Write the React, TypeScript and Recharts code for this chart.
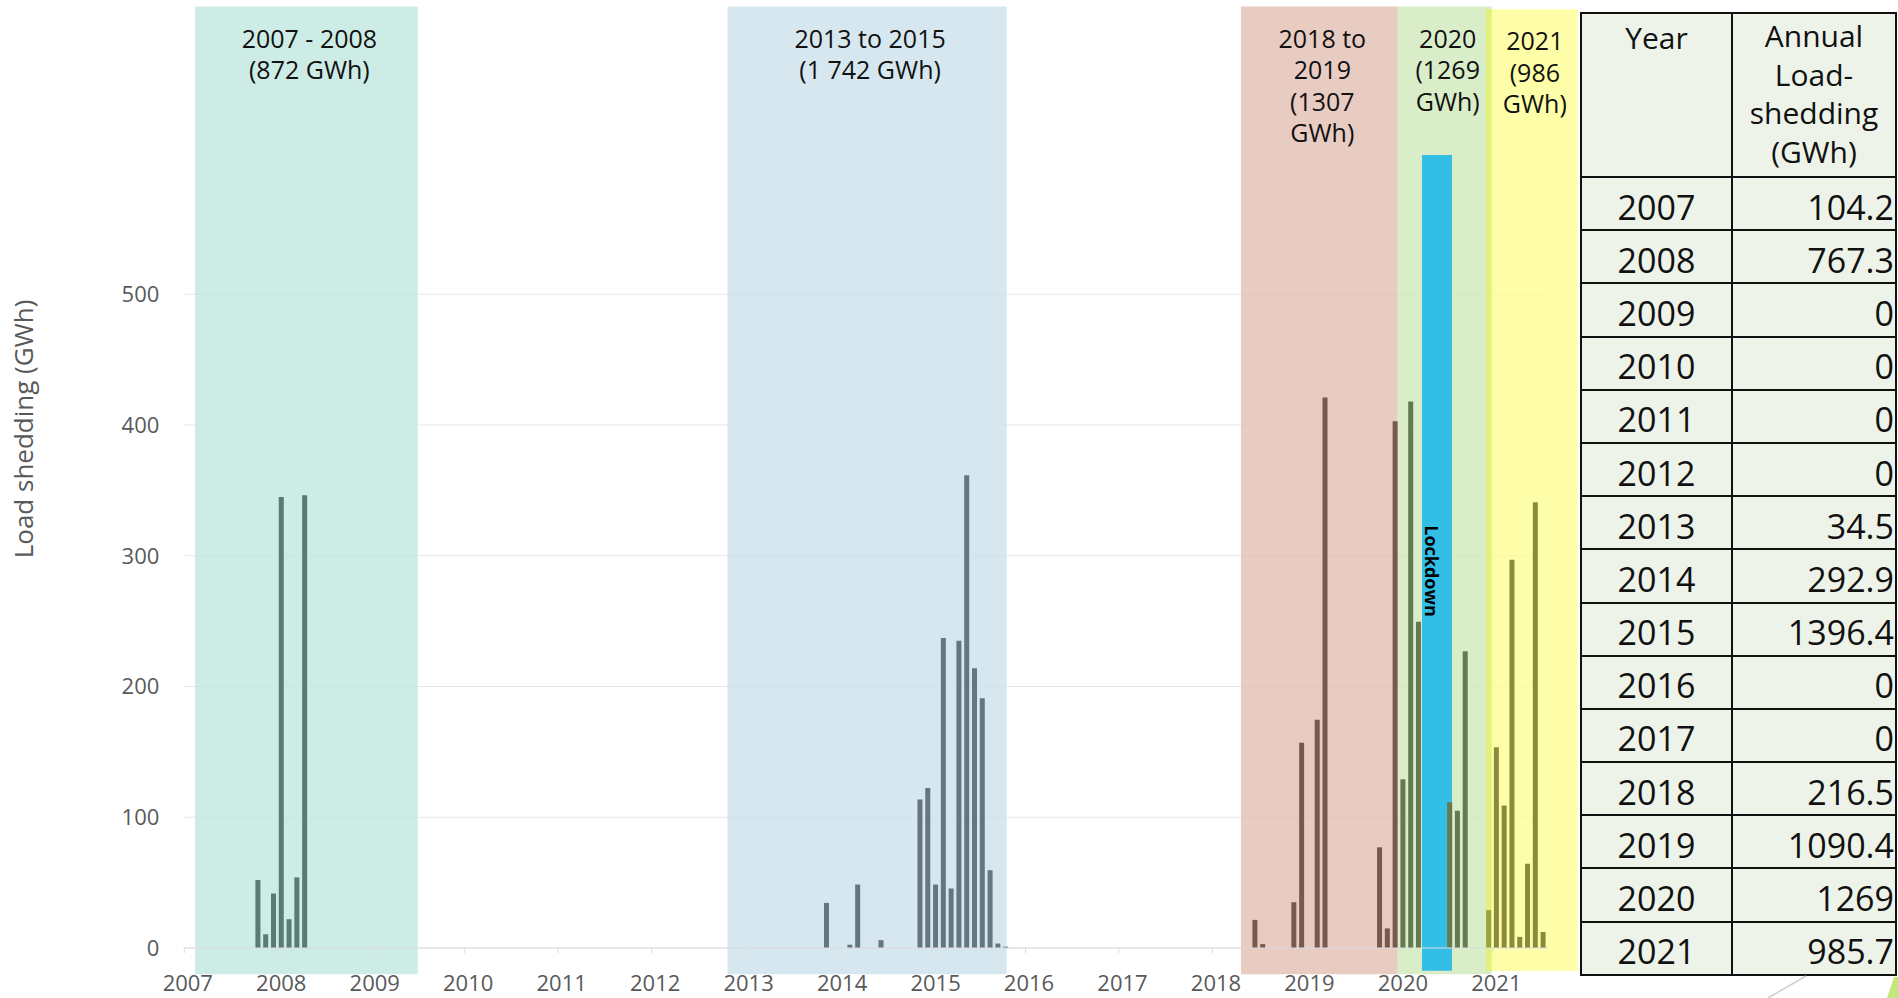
import { Bar, BarChart, CartesianGrid, Cell, ReferenceArea, XAxis, YAxis } from "recharts";

// monthly load shedding, only the months that had any
const monthLabels = [
  "2007-10", "2007-11", "2007-12", "2008-01", "2008-02", "2008-03", "2008-04",
  "2013-11", "2014-02", "2014-03", "2014-06", "2014-11", "2014-12",
  "2015-01", "2015-02", "2015-03", "2015-04", "2015-05", "2015-06", "2015-07", "2015-08", "2015-09", "2015-10",
  "2018-06", "2018-07", "2018-11", "2018-12",
  "2019-02", "2019-03", "2019-10", "2019-11", "2019-12",
  "2020-01", "2020-02", "2020-03", "2020-07", "2020-08", "2020-09", "2020-12",
  "2021-01", "2021-02", "2021-03", "2021-04", "2021-05", "2021-06", "2021-07"
];
const monthlyGwh = [
  52, 10.5, 41.7, 345, 22, 54, 346.3,
  34.5, 2.5, 48.5, 6, 113.5, 122.4,
  48.5, 237, 45.5, 235, 361.5, 214, 191, 59.5, 3.4, 1,
  21.5, 3, 35, 157,
  174.5, 421, 77, 15, 402.9,
  129, 418, 249.5, 111.5, 105, 227, 29,
  153.5, 109, 297, 8.5, 64.5, 341, 12.2
];

const yearTicks = [2007, 2008, 2009, 2010, 2011, 2012, 2013, 2014, 2015, 2016, 2017, 2018, 2019, 2020, 2021];
const gwhTicks = [0, 100, 200, 300, 400, 500];
const gwhMax = 720;

// shaded periods (in years on the x axis, GWh on the y axis)
const periodLabels = [
  ["2007 - 2008", "(872 GWh)"],
  ["2013 to 2015", "(1 742 GWh)"],
  ["2018 to", "2019", "(1307", "GWh)"],
  ["2020", "(1269", "GWh)"],
  ["2021", "(986", "GWh)"]
];
const periodFrom = [2007.115, 2012.811, 2018.305, 2019.982, 2020.926];
const periodTo = [2009.497, 2015.799, 2019.982, 2020.987, 2021.908];
const periodTop = [720, 720, 720, 720, 718];
const periodBottom = [-20, -20, -20, -20, -17.5];
const bandFills = ["#c0e7e0", "#cce1ec", "#e2beb2", "#d0e9bc", "#fefe92"];
const barFills = ["#5a7a72", "#66767e", "#775a4e", "#657a52", "#8b8b3d"];
const overlapFill = "#e3f07c";
const overlapBarFill = "#9aa43f";

const lockdownFrom = 2020.242;
const lockdownTo = 2020.563;
const lockdownTop = 606.5;
const lockdownBottom = -17.4;

const tableYears = ["2007", "2008", "2009", "2010", "2011", "2012", "2013", "2014", "2015", "2016", "2017", "2018", "2019", "2020", "2021"];
const annualGwh = ["104.2", "767.3", "0", "0", "0", "0", "34.5", "292.9", "1396.4", "0", "0", "216.5", "1090.4", "1269", "985.7"];

const font = "'Open Sans', 'Noto Sans', sans-serif";

const data = monthLabels.map((label, i) => {
  const [y, m] = label.split("-").map(Number);
  return { label, x: y + (m - 0.5) / 12, gwh: monthlyGwh[i] };
});

function barColor(x: number) {
  const hits = periodFrom.map((f, i) => (x >= f && x <= periodTo[i] ? i : -1)).filter((i) => i >= 0);
  if (hits.length > 1) return overlapBarFill;
  return hits.length ? barFills[hits[0]] : "#666";
}

// grid lines only at the labelled ticks
function gridRows(props: any) {
  const { offset } = props;
  return gwhTicks.map((t) => offset.top + offset.height * (1 - t / gwhMax));
}

function BandLabel({ viewBox, lines }: any) {
  if (!viewBox) return null;
  const cx = viewBox.x + viewBox.width / 2 + 3;
  return (
    <text x={cx} y={viewBox.y + 41} textAnchor="middle" fontSize={25} fill="#111" fontFamily={font}>
      {lines.map((line: string, i: number) => (
        <tspan key={i} x={cx} dy={i === 0 ? 0 : 31.6}>
          {line}
        </tspan>
      ))}
    </text>
  );
}

function LockdownLabel({ viewBox }: any) {
  if (!viewBox) return null;
  const cx = viewBox.x + 10;
  const cy = viewBox.y + 416;
  return (
    <text
      x={cx}
      y={cy}
      transform={`rotate(90 ${cx} ${cy})`}
      textAnchor="middle"
      dominantBaseline="central"
      fontSize={18}
      fontWeight={700}
      fill="#000"
      fontFamily={font}
    >
      Lockdown
    </text>
  );
}

function YLabel() {
  return (
    <text
      x={23}
      y={429}
      transform="rotate(-90 23 429)"
      textAnchor="middle"
      dominantBaseline="central"
      fontSize={26}
      fill="#595959"
      fontFamily={font}
    >
      Load shedding (GWh)
    </text>
  );
}

function AnnualTable() {
  const cell = { background: "#eef3e9", color: "#111" };
  return (
    <div
      style={{
        position: "absolute",
        left: 1580,
        top: 12,
        width: 317,
        border: "2px solid #111",
        boxSizing: "border-box",
        display: "grid",
        gridTemplateColumns: "149px 162px",
        gridTemplateRows: "162px repeat(15, 51.2px)",
        gap: 2,
        background: "#111",
        fontFamily: font
      }}
    >
      <div style={{ ...cell, fontSize: 30, lineHeight: "39px", textAlign: "center", paddingTop: 4 }}>Year</div>
      <div style={{ ...cell, fontSize: 30, lineHeight: "38.5px", textAlign: "center", paddingTop: 3 }}>
        Annual
        <br />
        Load-
        <br />
        shedding
        <br />
        (GWh)
      </div>
      {tableYears.map((year, i) => [
        <div key={year} style={{ ...cell, fontSize: 34, display: "flex", alignItems: "center", justifyContent: "center", paddingTop: 6, boxSizing: "border-box" }}>
          {year}
        </div>,
        <div key={year + "v"} style={{ ...cell, fontSize: 34, display: "flex", alignItems: "center", justifyContent: "flex-end", paddingTop: 6, paddingRight: 1, boxSizing: "border-box" }}>
          {annualGwh[i]}
        </div>
      ])}
    </div>
  );
}

export default function App() {
  return (
    <div style={{ position: "fixed", left: 0, top: 0, width: 1898, height: 998, overflow: "hidden", background: "#fff", fontFamily: font }}>
      <BarChart
        width={1898}
        height={998}
        data={data}
        margin={{ top: 6.6, right: 350.6, bottom: 0, left: 104.3 }}
        barSize={5}
      >
        <CartesianGrid vertical={false} stroke="#e6e6e6" horizontalCoordinatesGenerator={gridRows} />
        {periodLabels.map((lines, i) => (
          <ReferenceArea
            key={i}
            x1={periodFrom[i]}
            x2={periodTo[i]}
            y1={periodBottom[i]}
            y2={periodTop[i]}
            fill={bandFills[i]}
            fillOpacity={0.8}
            stroke="none"
            ifOverflow="visible"
            label={<BandLabel lines={lines} />}
          />
        ))}
        <ReferenceArea
          x1={periodFrom[4]}
          x2={periodTo[3]}
          y1={periodBottom[4]}
          y2={periodTop[4]}
          fill={overlapFill}
          fillOpacity={1}
          stroke="none"
          ifOverflow="visible"
        />
        <XAxis
          dataKey="x"
          type="number"
          domain={[2007, 2021 + 7 / 12]}
          allowDataOverflow
          ticks={yearTicks}
          height={50}
          tickSize={5}
          tickMargin={22}
          axisLine={{ stroke: "#dcdcdc" }}
          tickLine={{ stroke: "#dcdcdc" }}
          tick={{ fill: "#595959", fontSize: 22, fontFamily: font, dx: 3.5 }}
        />
        <YAxis
          type="number"
          domain={[0, gwhMax]}
          allowDataOverflow
          ticks={gwhTicks}
          width={80}
          axisLine={false}
          tickLine={false}
          tickSize={0}
          tickMargin={25}
          tick={{ fill: "#595959", fontSize: 22, fontFamily: font }}
          label={<YLabel />}
        />
        <Bar dataKey="gwh" isAnimationActive={false}>
          {data.map((d) => (
            <Cell key={d.label} fill={barColor(d.x)} />
          ))}
        </Bar>
        <ReferenceArea
          x1={lockdownFrom}
          x2={lockdownTo}
          y1={lockdownBottom}
          y2={lockdownTop}
          fill="#2bbbe6"
          fillOpacity={0.96}
          stroke="none"
          ifOverflow="visible"
          label={<LockdownLabel />}
        />
      </BarChart>
      <AnnualTable />
      <svg width={1898} height={998} style={{ position: "absolute", left: 0, top: 0, pointerEvents: "none" }}>
        <line x1={1768} y1={998} x2={1806} y2={976} stroke="#cfcfcf" strokeWidth={1.5} />
        <polygon points="1894,977 1898,977 1898,998 1887,998" fill="#c3e77c" />
      </svg>
    </div>
  );
}
